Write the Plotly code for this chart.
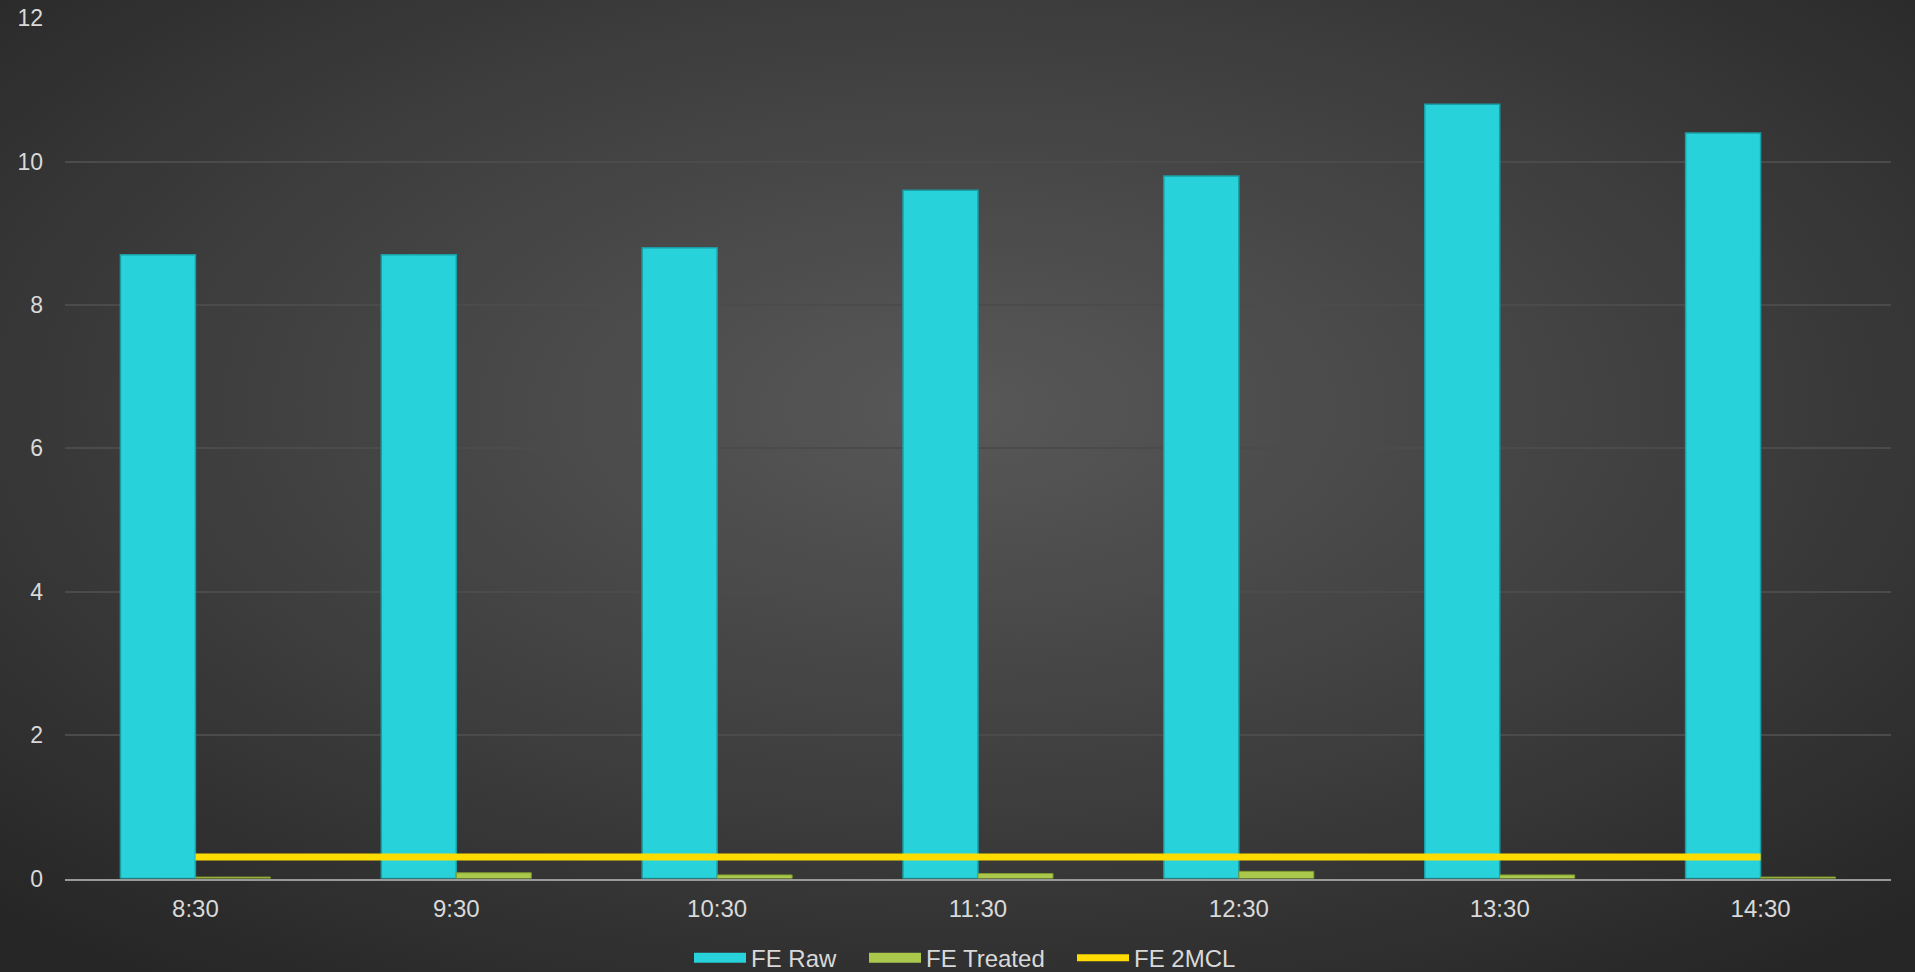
import base64
import plotly.graph_objects as go

categories = ["8:30", "9:30", "10:30", "11:30", "12:30", "13:30", "14:30"]
fe_raw = [8.7, 8.7, 8.8, 9.6, 9.8, 10.8, 10.4]
fe_treated = [0.02, 0.08, 0.05, 0.07, 0.1, 0.05, 0.02]
fe_2mcl = [0.3, 0.3, 0.3, 0.3, 0.3, 0.3, 0.3]
y_ticks = [0, 2, 4, 6, 8, 10, 12]
series_names = ["FE Raw", "FE Treated", "FE 2MCL"]

W, H = 1915, 972
FONT = "Liberation Sans, Arial, sans-serif"
TXT = "#d9d9d9"
RAW_C, TREAT_C, MCL_C = "#27d2da", "#a9c84c", "#ffdc00"

svg = (
    f'<svg xmlns="http://www.w3.org/2000/svg" width="{W}" height="{H}" preserveAspectRatio="none">'
    '<defs><radialGradient id="g" cx="50%" cy="42%" r="72%">'
    '<stop offset="0" stop-color="#585858"/>'
    '<stop offset="0.55" stop-color="#3e3e3e"/>'
    '<stop offset="1" stop-color="#262626"/>'
    '</radialGradient></defs>'
    f'<rect width="{W}" height="{H}" fill="url(#g)"/></svg>'
)
bg_src = "data:image/svg+xml;base64," + base64.b64encode(svg.encode()).decode()

fig = go.Figure()
fig.add_trace(go.Bar(
    x=categories, y=fe_raw, name=series_names[0], showlegend=False,
    marker=dict(color=RAW_C, line=dict(color="#1a9ea5", width=1.5)),
))
fig.add_trace(go.Bar(
    x=categories, y=fe_treated, name=series_names[1], showlegend=False,
    marker=dict(color=TREAT_C, line=dict(color="#7e9a2c", width=1)),
))
fig.add_trace(go.Scatter(
    x=categories, y=fe_2mcl, name=series_names[2], mode="lines", legend="legend3",
    line=dict(color=MCL_C, width=7),
))
# legend proxies for the bar series (wide swatches like the original)
fig.add_trace(go.Scatter(
    x=[None], y=[None], name=series_names[0], mode="lines", legend="legend",
    line=dict(color=RAW_C, width=12), hoverinfo="skip",
))
fig.add_trace(go.Scatter(
    x=[None], y=[None], name=series_names[1], mode="lines", legend="legend2",
    line=dict(color=TREAT_C, width=12), hoverinfo="skip",
))

leg_common = dict(
    orientation="h", xanchor="left", y=-0.009, yanchor="bottom",
    font=dict(family=FONT, size=24, color=TXT),
    bgcolor="rgba(0,0,0,0)", borderwidth=0, itemwidth=52,
)

fig.update_layout(
    width=W, height=H,
    margin=dict(l=0, r=0, t=0, b=0, autoexpand=False),
    paper_bgcolor="#333333",
    plot_bgcolor="rgba(0,0,0,0)",
    barmode="group", bargap=0.425, bargroupgap=0,
    font=dict(family=FONT, size=22, color=TXT),
    showlegend=True,
    legend=dict(x=(751 - 62) / W, **leg_common),
    legend2=dict(x=(926 - 62) / W, **leg_common),
    legend3=dict(x=(1134 - 62) / W, **leg_common),
    images=[dict(
        source=bg_src, xref="paper", yref="paper", x=0, y=1, sizex=1, sizey=1,
        xanchor="left", yanchor="top", sizing="stretch", layer="below",
    )],
    xaxis=dict(
        domain=[65 / W, 1891 / W],
        showgrid=False, showline=True, linecolor="#9a9a9a", linewidth=2,
        ticks="", ticklabelstandoff=8, tickfont=dict(size=24, color=TXT),
        automargin=False,
    ),
    yaxis=dict(
        domain=[1 - 878.5 / H, 1 - 18.3 / H],
        range=[0, 12], tickvals=y_ticks,
        showgrid=True, gridcolor="#4b4b4b", gridwidth=1.5,
        zeroline=False, showline=False,
        ticks="", ticklabelstandoff=21, tickfont=dict(size=23, color=TXT),
        automargin=False,
    ),
)

fig.write_html(
    "out.html",
    post_script="document.documentElement.style.margin='0';document.body.style.margin='0';"
                "document.body.style.overflow='hidden';document.documentElement.style.overflow='hidden';",
)
